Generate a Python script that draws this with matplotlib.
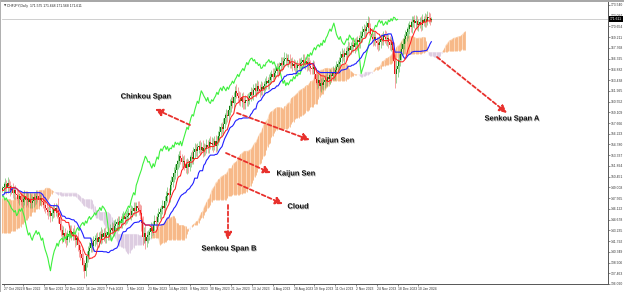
import numpy as np
import pandas as pd
import matplotlib
matplotlib.use("Agg")
import matplotlib.pyplot as plt
import matplotlib.patheffects as pe

W, H = 624, 292

# daily closes before the visible window (only feed the indicator)
hist_close = [
    136.4, 135.9, 136.3, 136.8, 136.2, 135.8, 136.5, 137.0, 136.6, 136.2,
    136.9, 137.4, 137.0, 137.6, 138.3, 138.0, 138.7, 139.4, 139.1, 139.8,
    140.5, 140.2, 141.0, 141.6, 141.3, 142.0, 142.6, 142.3, 143.0, 143.5,
    143.1, 143.7, 144.2, 143.8, 144.4, 145.0, 145.6, 146.3, 146.9, 147.4,
    148.0, 148.6, 149.3, 148.8, 149.4, 149.9, 149.4, 148.7, 149.2, 148.5,
    147.9, 148.4, 147.7, 147.1, 147.6, 148.2, 147.5, 146.9, 147.4, 148.0,
    148.5, 147.9, 148.4, 149.0, 148.6, 149.2, 148.7, 148.1, 148.6, 149.1,
    148.5, 147.9, 148.3, 148.9, 148.4, 148.0, 148.6, 148.9,
]
hist_up = [
    0.3, 0.5, 0.2, 0.4, 0.6, 0.3, 0.2, 0.5, 0.4, 0.3,
    0.4, 0.2, 0.5, 0.3, 0.3, 0.6, 0.4, 0.2, 0.3, 0.5,
    0.2, 0.4, 0.3, 0.6, 0.2, 0.3, 0.5, 0.4, 0.2, 0.4,
    0.5, 0.3, 0.4, 0.2, 0.5, 0.4, 0.3, 0.6, 0.3, 0.2,
    0.3, 0.4, 0.2, 0.5, 0.3, 0.6, 0.2, 0.4, 0.3, 0.5,
    0.4, 0.3, 0.5, 0.2, 0.4, 0.3, 0.6, 0.3, 0.2, 0.4,
    0.2, 0.5, 0.3, 0.4, 0.3, 0.2, 0.5, 0.4, 0.3, 0.6,
    0.3, 0.2, 0.4, 0.5, 0.3, 0.4, 0.2, 0.3,
]
hist_dn = [
    0.4, 0.2, 0.5, 0.3, 0.2, 0.4, 0.6, 0.3, 0.2, 0.5,
    0.3, 0.5, 0.2, 0.4, 0.6, 0.3, 0.2, 0.5, 0.4, 0.3,
    0.5, 0.3, 0.4, 0.2, 0.5, 0.4, 0.3, 0.2, 0.6, 0.3,
    0.2, 0.4, 0.3, 0.5, 0.3, 0.2, 0.4, 0.3, 0.5, 0.4,
    0.4, 0.2, 0.6, 0.3, 0.4, 0.2, 0.5, 0.3, 0.4, 0.2,
    0.3, 0.5, 0.2, 0.4, 0.3, 0.5, 0.2, 0.4, 0.6, 0.3,
    0.5, 0.3, 0.4, 0.2, 0.5, 0.3, 0.4, 0.2, 0.3, 0.4,
    0.2, 0.4, 0.3, 0.2, 0.5, 0.3, 0.4, 0.2,
]

# visible bars, 27 Oct 2022 -> late Jan 2024
close = [
    149.0, 149.4, 148.9, 149.6, 149.2, 148.7, 148.8, 148.3, 148.6, 148.1,
    148.0, 147.5, 147.8, 147.3, 147.0, 147.4, 147.9, 147.3, 147.6, 147.1,
    147.5, 146.9, 147.2, 147.7, 147.4, 147.9, 147.8, 147.3, 147.6, 147.2,
    147.0, 146.6, 146.2, 146.0, 145.7, 145.9, 145.2, 145.5, 146.1, 145.8,
    146.2, 145.6, 145.0, 144.1, 143.3, 142.6, 142.9, 142.3, 141.9, 142.5,
    142.8, 143.2, 142.7, 143.0, 142.5, 141.9, 142.2, 141.3, 140.6, 140.1,
    139.5, 138.6, 137.8, 138.9, 139.8, 140.5, 140.9, 141.5, 141.1, 141.8,
    142.0, 142.2, 141.7, 142.4, 142.1, 142.8, 142.4, 142.9, 142.3, 142.6,
    143.0, 142.7, 143.3, 143.6, 143.2, 143.8, 144.1, 144.3, 143.9, 144.5,
    144.2, 144.8, 145.1, 144.7, 145.0, 145.2, 145.6, 145.3, 145.8, 145.9,
    146.3, 145.9, 146.5, 146.3, 146.0, 145.6, 144.2, 142.4, 142.9, 141.8,
    142.3, 142.6, 143.0, 143.5, 143.2, 143.9, 144.5, 144.3, 145.0, 145.4,
    145.7, 146.1, 146.5, 146.3, 147.2, 147.8, 148.3, 148.0, 149.3, 149.8,
    150.4, 150.9, 151.4, 152.1, 152.6, 153.2, 152.9, 152.4, 152.5, 152.0,
    151.6, 152.2, 151.8, 152.5, 153.1, 152.8, 153.8, 154.2, 153.9, 154.4,
    154.6, 154.1, 154.5, 153.9, 154.3, 154.2, 154.7, 154.4, 155.1, 154.8,
    155.0, 154.7, 155.2, 154.6, 155.3, 155.9, 156.5, 157.1, 156.8, 157.6,
    158.3, 158.8, 158.6, 159.4, 160.0, 160.6, 160.3, 161.2, 162.0, 161.7,
    161.3, 161.0, 160.6, 161.1, 160.5, 160.3, 160.8, 160.6, 161.0, 161.3,
    161.8, 161.5, 162.1, 162.4, 162.0, 162.6, 162.3, 162.0, 162.5, 162.2,
    162.7, 162.9, 163.3, 163.0, 163.5, 163.8, 164.2, 163.9, 164.4, 164.7,
    165.0, 164.7, 165.3, 165.8, 165.5, 166.0, 166.3, 166.4, 166.0, 166.2,
    165.7, 165.8, 165.4, 165.6, 165.0, 165.1, 165.5, 165.3, 165.8, 165.9,
    166.2, 165.8, 166.0, 165.6, 165.9, 165.4, 165.1, 164.9, 165.2, 164.3,
    163.6, 163.0, 163.4, 162.7, 163.1, 162.8, 163.2, 163.5, 163.3, 163.9,
    163.6, 164.1, 164.0, 164.4, 164.2, 164.8, 165.2, 165.6, 165.9, 166.4,
    166.9, 166.6, 167.1, 166.8, 167.4, 167.8, 167.5, 168.0, 168.2, 167.9,
    168.4, 168.1, 168.8, 168.5, 169.1, 169.4, 169.9, 170.3, 170.0, 170.6,
    171.1, 170.4, 169.6, 169.2, 168.9, 169.3, 168.7, 168.4, 168.2, 168.6,
    169.0, 168.8, 169.5, 169.2, 168.9, 169.1, 168.6, 168.2, 168.5, 167.5,
    166.0, 164.3, 164.9, 165.4, 166.2, 166.9, 167.6, 168.3, 169.0, 169.4,
    169.9, 170.3, 170.8, 170.6, 171.2, 171.5, 171.1, 171.4, 170.8, 171.0,
    171.3, 170.9, 171.5, 171.3, 171.7, 171.4, 171.9, 171.8, 171.5, 171.611,
]
wick_up = [
    0.7, 0.9, 0.6, 0.8, 0.6, 0.7, 0.5, 0.8, 0.6, 0.7,
    0.6, 0.8, 0.5, 0.7, 0.9, 0.6, 0.7, 0.5, 0.8, 0.6,
    0.8, 0.6, 0.7, 0.5, 0.6, 0.8, 0.7, 0.6, 0.5, 0.7,
    0.6, 0.7, 0.9, 0.6, 0.5, 0.8, 0.6, 0.7, 0.6, 0.8,
    0.7, 0.6, 2.0, 0.8, 0.6, 0.7, 0.9, 0.6, 0.7, 0.8,
    0.6, 0.8, 0.7, 0.6, 0.9, 0.7, 0.6, 0.8, 0.7, 0.6,
    0.8, 0.7, 0.6, 0.9, 0.7, 0.6, 0.8, 0.7, 0.6, 0.7,
    0.6, 0.7, 0.8, 0.6, 0.7, 0.9, 0.6, 0.7, 0.8, 0.6,
    0.7, 0.6, 0.8, 0.7, 0.6, 0.8, 0.7, 0.6, 0.9, 0.7,
    0.6, 0.8, 0.7, 0.6, 0.7, 0.8, 0.6, 0.7, 0.8, 0.6,
    0.7, 0.8, 0.6, 0.7, 0.9, 0.8, 1.0, 0.9, 0.8, 1.1,
    0.8, 0.7, 0.6, 0.8, 0.7, 0.6, 0.8, 0.7, 0.6, 0.8,
    0.7, 0.6, 0.8, 0.7, 0.6, 0.7, 0.8, 0.6, 0.7, 0.8,
    0.6, 0.8, 0.7, 0.6, 0.9, 0.7, 0.8, 0.6, 0.7, 0.9,
    0.8, 0.7, 0.6, 0.8, 0.7, 0.9, 0.6, 0.8, 0.7, 0.6,
    0.7, 0.8, 0.6, 0.9, 0.7, 0.6, 0.8, 0.7, 0.6, 0.8,
    0.8, 0.6, 0.7, 0.9, 0.6, 0.7, 0.8, 0.6, 0.7, 0.8,
    0.7, 0.8, 0.6, 0.7, 0.9, 0.6, 0.8, 0.7, 0.6, 0.9,
    0.8, 0.7, 0.9, 0.6, 0.8, 0.7, 0.6, 0.8, 0.7, 0.6,
    0.7, 0.6, 0.8, 0.7, 0.6, 0.9, 0.7, 0.6, 0.8, 0.7,
    0.6, 0.8, 0.7, 0.6, 0.8, 0.7, 0.6, 0.9, 0.7, 0.6,
    0.8, 0.7, 0.6, 0.8, 0.7, 0.6, 0.9, 0.7, 0.6, 0.8,
    0.7, 0.6, 0.8, 0.7, 0.6, 0.8, 0.7, 0.9, 0.6, 0.7,
    0.8, 0.7, 0.6, 0.9, 0.7, 0.6, 0.8, 0.7, 0.9, 0.8,
    0.7, 0.9, 0.8, 0.7, 0.6, 0.8, 0.7, 0.6, 0.8, 0.7,
    0.6, 0.8, 0.7, 0.9, 0.6, 0.7, 0.8, 0.6, 0.7, 0.9,
    0.8, 0.6, 0.7, 0.8, 0.6, 0.9, 0.7, 0.6, 0.8, 0.7,
    0.7, 0.8, 0.6, 0.7, 0.9, 0.6, 0.8, 0.7, 0.6, 0.8,
    0.9, 0.8, 0.7, 0.9, 0.6, 0.8, 0.7, 0.6, 0.8, 0.7,
    0.7, 0.8, 0.6, 0.7, 0.9, 0.7, 0.6, 0.8, 0.7, 0.9,
    1.1, 0.9, 1.2, 1.0, 0.8, 0.7, 0.9, 0.8, 0.7, 0.8,
    0.7, 0.8, 0.6, 0.7, 0.8, 0.6, 0.7, 0.8, 0.6, 0.7,
    0.6, 0.7, 0.8, 0.6, 0.7, 0.6, 0.8, 0.7, 0.6, 0.3,
]
wick_dn = [
    0.6, 0.7, 0.8, 0.6, 0.7, 0.9, 0.6, 0.7, 0.8, 0.6,
    0.7, 0.6, 0.8, 0.7, 0.6, 0.8, 0.7, 0.9, 0.6, 0.7,
    0.8, 0.7, 0.6, 0.8, 0.7, 0.6, 0.7, 0.8, 0.6, 0.7,
    0.7, 0.8, 0.6, 0.7, 0.9, 0.6, 0.8, 0.7, 0.6, 0.8,
    0.6, 0.7, 0.8, 0.9, 0.8, 1.0, 0.7, 0.8, 0.9, 0.7,
    0.8, 0.6, 0.7, 0.8, 0.6, 0.9, 0.7, 0.8, 0.9, 0.8,
    0.9, 0.8, 1.0, 0.7, 0.6, 0.8, 0.7, 0.6, 0.8, 0.7,
    0.7, 0.6, 0.8, 0.7, 0.6, 0.7, 0.8, 0.6, 0.7, 0.8,
    0.6, 0.8, 0.7, 0.6, 0.8, 0.7, 0.6, 0.8, 0.7, 0.6,
    0.7, 0.6, 0.8, 0.7, 0.6, 0.8, 0.7, 0.6, 0.7, 0.8,
    0.6, 0.7, 0.8, 0.6, 0.7, 0.9, 1.0, 1.2, 0.9, 1.1,
    0.8, 0.7, 0.6, 0.8, 0.7, 0.6, 0.7, 0.8, 0.6, 0.7,
    0.7, 0.8, 0.6, 0.7, 0.8, 0.6, 0.7, 0.8, 0.9, 0.7,
    0.8, 0.6, 0.7, 0.8, 0.6, 0.9, 0.7, 0.8, 0.6, 0.7,
    0.7, 0.8, 0.9, 0.6, 0.8, 0.7, 0.6, 0.9, 0.7, 0.8,
    0.8, 0.7, 0.6, 0.8, 0.7, 0.9, 0.6, 0.7, 0.8, 0.6,
    0.7, 0.9, 0.6, 0.8, 0.7, 0.6, 0.8, 0.7, 0.6, 0.8,
    0.6, 0.7, 0.8, 0.6, 0.7, 0.8, 0.6, 0.7, 0.9, 0.7,
    0.8, 0.9, 0.7, 0.8, 1.0, 0.7, 0.8, 0.6, 0.7, 0.8,
    0.7, 0.6, 0.8, 0.7, 0.9, 0.6, 0.7, 0.8, 0.6, 0.7,
    0.8, 0.7, 0.6, 0.8, 0.7, 0.6, 0.8, 0.7, 0.6, 0.7,
    0.7, 0.8, 0.6, 0.7, 0.8, 0.6, 0.7, 0.8, 0.6, 0.8,
    0.6, 0.7, 0.8, 0.6, 0.7, 0.8, 0.9, 0.7, 0.8, 0.9,
    0.8, 0.7, 0.9, 1.0, 0.8, 0.7, 0.8, 0.6, 0.7, 0.8,
    0.7, 0.8, 0.6, 0.7, 0.8, 0.6, 0.7, 0.8, 0.6, 0.7,
    0.6, 0.7, 0.8, 0.6, 0.7, 0.8, 0.6, 0.7, 0.8, 0.6,
    0.7, 0.6, 0.8, 0.7, 0.6, 0.8, 0.7, 0.6, 0.8, 0.7,
    0.8, 0.7, 0.6, 0.8, 0.7, 0.6, 0.8, 0.7, 0.6, 0.8,
    0.7, 0.9, 0.8, 0.7, 0.9, 0.8, 0.7, 0.8, 0.9, 0.7,
    0.8, 0.7, 0.6, 0.8, 0.7, 0.9, 0.8, 0.7, 0.9, 1.2,
    1.3, 1.9, 1.2, 1.0, 0.9, 0.8, 0.7, 0.8, 0.7, 0.6,
    0.7, 0.8, 0.6, 0.7, 0.8, 0.6, 0.7, 0.8, 0.6, 0.7,
    0.6, 0.8, 0.7, 0.6, 0.7, 0.8, 0.6, 0.7, 0.6, 0.3,
]

date_pos = [0, 15, 31, 47, 63, 79, 95, 111, 127, 143, 159, 175, 191, 207,
            223, 239, 255, 271, 287, 303, 319]
date_labels = ["27 Oct 2022", "8 Nov 2022", "30 Nov 2022", "22 Dec 2022",
               "16 Jan 2023", "7 Feb 2023", "1 Mar 2023", "23 Mar 2023",
               "14 Apr 2023", "8 May 2023", "30 May 2023", "21 Jun 2023",
               "13 Jul 2023", "4 Aug 2023", "28 Aug 2023", "19 Sep 2023",
               "11 Oct 2023", "2 Nov 2023", "24 Nov 2023", "18 Dec 2023",
               "10 Jan 2024"]
price_ticks = [173.540, 172.097, 170.654, 169.211, 167.768, 166.325, 164.882,
               163.438, 161.995, 160.552, 159.109, 157.666, 156.223, 154.780,
               153.337, 151.894, 150.451, 149.008, 147.565, 146.122, 144.678,
               143.235, 141.792, 140.349, 138.906, 137.463, 136.020]
bid = 171.611
header = "CHFJPY,Daily  171.575 171.648 171.568 171.611"

# (text, text x, text y, arrow start x, y, arrow end x, y) in image pixels
notes = [
    ("Chinkou Span", 146, 97, 190, 125, 155, 109),
    ("Kaijun Sen", 335, 141, 237, 113, 310, 140),
    ("Kaijun Sen", 296, 174, 226, 153, 271, 173),
    ("Cloud", 298, 207, 238, 184, 283, 204),
    ("Senkou Span B", 229, 249, 228, 205, 228, 240),
    ("Senkou Span A", 512, 119, 437, 57, 507, 113),
]


def fxy(px, py):
    return (px / W, 1 - py / H)


def main():
    assert len(close) == len(wick_up) == len(wick_dn) == 330
    assert len(hist_close) == len(hist_up) == len(hist_dn)

    c = np.array(hist_close + close, float)
    o = np.r_[c[0], c[:-1]]
    hi = np.maximum(o, c) + np.array(hist_up + wick_up)
    lo = np.minimum(o, c) - np.array(hist_dn + wick_dn)
    x = np.arange(len(c)) - len(hist_close)

    hs, ls = pd.Series(hi), pd.Series(lo)

    def mid(n):
        return ((hs.rolling(n).max() + ls.rolling(n).min()) / 2).to_numpy()

    tenkan, kijun, span_b = mid(9), mid(26), mid(52)
    span_a = (tenkan + kijun) / 2
    xf = x + 26

    fig = plt.figure(figsize=(W / 100, H / 100), dpi=100)
    ax = fig.add_axes([2 / W, 8 / H, 606 / W, 282 / H])

    # cloud: MT4 paints it as one vertical stroke per bar
    ok = ~np.isnan(span_a) & ~np.isnan(span_b)
    up = ok & (span_a >= span_b)
    dn = ok & (span_a < span_b)
    a0, b0 = np.nan_to_num(span_a), np.nan_to_num(span_b)
    ax.fill_between(xf, a0, b0, where=up, interpolate=True, color="#fcd9bb", lw=0, zorder=1)
    ax.fill_between(xf, a0, b0, where=dn, interpolate=True, color="#eee4ef", lw=0, zorder=1)
    ax.vlines(xf[up], span_a[up], span_b[up], colors="#f6b07a", lw=0.55, zorder=1.5)
    ax.vlines(xf[dn], span_a[dn], span_b[dn], colors="#d9c6de", lw=0.55, zorder=1.5)

    # candles
    bull = c >= o
    ax.vlines(x, lo, hi, colors=np.where(bull, "#5cbc5c", "#f07070"), lw=0.45, zorder=2)
    ax.bar(x, np.maximum(np.abs(c - o), 0.06), bottom=np.minimum(o, c), width=0.8,
           color=np.where(bull, "#0f7d0f", "#e61b1b"), lw=0, zorder=2.5)

    ax.plot(x - 26, c, color="#3df03d", lw=0.8, zorder=3)
    ax.plot(x, tenkan, color="#ff1f1f", lw=0.75, zorder=3.2)
    ax.plot(x, kijun, color="#1f1fff", lw=0.8, zorder=3.1)

    ax.axhline(bid, color="#c8c8c8", lw=0.6, zorder=0.5)

    ax.set_xlim(-1.27, 464.9)
    ax.set_ylim(136.02, 173.94)
    ax.yaxis.tick_right()
    ax.set_yticks(price_ticks)
    ax.set_yticklabels([f"{v:.3f}" for v in price_ticks])
    ax.set_xticks(date_pos)
    ax.set_xticklabels(date_labels, ha="left")
    ax.tick_params(axis="both", length=1.6, width=0.4, pad=0.6, labelsize=2.4,
                   colors="#333333", labelfontfamily="Liberation Sans")
    for s in ("top", "left"):
        ax.spines[s].set_visible(False)
    for s in ("right", "bottom"):
        ax.spines[s].set_color("#555555")
        ax.spines[s].set_linewidth(0.7)

    # current price tag on the scale
    ax.text(1.003, bid, f"{bid:.3f}", transform=ax.get_yaxis_transform(),
            fontsize=2.4, color="white", family="Liberation Sans", va="center",
            ha="left", clip_on=False, zorder=6,
            bbox=dict(boxstyle="square,pad=0.25", fc="black", ec="none"))

    # window frame and header
    fig.patches.append(plt.Rectangle((0, 1 - 2 / H), 1, 2 / H, transform=fig.transFigure,
                                     color="#a8a8a8", lw=0))
    fig.patches.append(plt.Rectangle((0, 0), 1.2 / W, 1, transform=fig.transFigure,
                                     color="#b0b0b0", lw=0))
    fig.text(*fxy(3.5, 5.5), "\u25bc", fontsize=2.2, color="#444444", va="center")
    fig.text(*fxy(7, 5.5), header, fontsize=2.4, color="#222222", va="center",
             family="Liberation Sans")

    shadow = [pe.withSimplePatchShadow(offset=(0.6, -0.6), shadow_rgbFace="#777777", alpha=0.6)]
    for txt, tx, ty, x0, y0, x1, y1 in notes:
        fig.text(*fxy(tx, ty), txt, ha="center", va="center", fontsize=5.4,
                 fontweight="bold", family="Liberation Sans", color="#111111",
                 path_effects=shadow, zorder=10)
        ax.annotate("", xy=fxy(x1, y1), xytext=fxy(x0, y0), xycoords="figure fraction",
                    textcoords="figure fraction", zorder=9,
                    arrowprops=dict(arrowstyle="-|>,head_length=0.45,head_width=0.22",
                                    color="#e8302c", lw=1.3, linestyle=(0, (2.2, 1.4)),
                                    shrinkA=0, shrinkB=0))

    fig.savefig("out.png", dpi=100, facecolor="white")


if __name__ == "__main__":
    main()
